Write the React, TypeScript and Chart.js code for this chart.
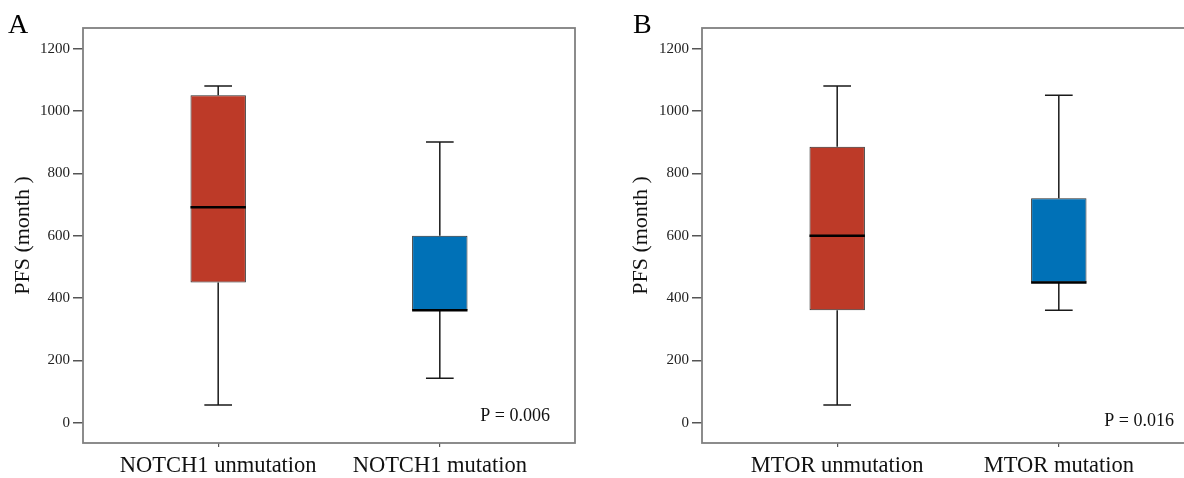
import React, { useEffect, useRef } from 'react';
import { Chart, registerables } from 'chart.js';

Chart.register(...registerables);

// ---------- data ----------
const categoriesA = ['NOTCH1 unmutation', 'NOTCH1 mutation'];
const minA = [57, 143];
const q1A = [450, 361];
const medianA = [691, 361];
const q3A = [1050, 600];
const maxA = [1080, 900];

const categoriesB = ['MTOR unmutation', 'MTOR mutation'];
const minB = [57, 361];
const q1B = [361, 450];
const medianB = [600, 450];
const q3B = [885, 720];
const maxB = [1080, 1050];

const boxColors = ['#BD3A28', '#0071B7'];
const yTickValues = [0, 200, 400, 600, 800, 1000, 1200];
const categoryPositions = [1, 2];
const yTitle = 'PFS (month )';

const SERIF = '"Liberation Serif", "Times New Roman", "DejaVu Serif", serif';

type PanelProps = {
  panelLabel: string;
  categories: string[];
  mins: number[];
  q1s: number[];
  medians: number[];
  q3s: number[];
  maxs: number[];
  pText: string;
  canvasLeft: number;
  canvasWidth: number;
  yAxisWidth: number;
  paddingRight: number;
  yTitlePad: number;
  labelX: number;
  pRightOffset: number;
  pBaseline: number;
};

function BoxPanel(props: PanelProps) {
  const ref = useRef<HTMLCanvasElement | null>(null);

  useEffect(() => {
    if (!ref.current) return;
    const p = props;
    const boxWidth = 0.25;
    const capWidth = 0.125;

    const decor = {
      id: 'boxDecor',
      afterDatasetsDraw(chart: any) {
        const { ctx, scales } = chart;
        const x = scales.x;
        const y = scales.y;
        ctx.save();
        categoryPositions.forEach((pos, i) => {
          const xc = x.getPixelForValue(pos);
          const cl = x.getPixelForValue(pos - capWidth / 2);
          const cr = x.getPixelForValue(pos + capWidth / 2);
          const bl = x.getPixelForValue(pos - boxWidth / 2);
          const br = x.getPixelForValue(pos + boxWidth / 2);
          const yMax = y.getPixelForValue(p.maxs[i]);
          const yMin = y.getPixelForValue(p.mins[i]);
          const yQ1 = y.getPixelForValue(p.q1s[i]);
          const yQ3 = y.getPixelForValue(p.q3s[i]);
          const yMed = y.getPixelForValue(p.medians[i]);
          ctx.strokeStyle = '#1a1a1a';
          ctx.lineWidth = 1.5;
          ctx.beginPath();
          ctx.moveTo(xc, yQ3);
          ctx.lineTo(xc, yMax);
          ctx.moveTo(cl, yMax);
          ctx.lineTo(cr, yMax);
          ctx.moveTo(xc, yQ1);
          ctx.lineTo(xc, yMin);
          ctx.moveTo(cl, yMin);
          ctx.lineTo(cr, yMin);
          ctx.stroke();
          ctx.strokeStyle = '#000';
          ctx.lineWidth = 2.5;
          ctx.beginPath();
          ctx.moveTo(bl, yMed);
          ctx.lineTo(br, yMed);
          ctx.stroke();
        });
        ctx.restore();
      },
      afterDraw(chart: any) {
        const { ctx, chartArea } = chart;
        ctx.save();
        ctx.strokeStyle = '#808080';
        ctx.lineWidth = 1.8;
        ctx.strokeRect(
          chartArea.left,
          chartArea.top,
          chartArea.right - chartArea.left,
          chartArea.bottom - chartArea.top
        );
        ctx.fillStyle = '#000';
        ctx.font = `28px ${SERIF}`;
        ctx.textAlign = 'left';
        ctx.textBaseline = 'alphabetic';
        ctx.fillText(p.panelLabel, p.labelX, 33);
        ctx.fillStyle = '#111';
        ctx.font = `18px ${SERIF}`;
        ctx.textAlign = 'right';
        ctx.fillText(p.pText, chartArea.right - p.pRightOffset, p.pBaseline);
        ctx.restore();
      },
    };

    const chart = new Chart(ref.current, {
      type: 'bar',
      data: {
        datasets: [
          {
            data: categoryPositions.map((pos, i) => ({ x: pos, y: [p.q1s[i], p.q3s[i]] })) as any,
            backgroundColor: boxColors,
            borderColor: '#2b2b2b',
            borderWidth: 1,
            borderSkipped: false,
            barPercentage: 1,
            categoryPercentage: boxWidth,
          },
        ],
      },
      options: {
        animation: false,
        responsive: false,
        maintainAspectRatio: false,
        layout: { padding: { top: 28, right: p.paddingRight, left: 0, bottom: 0 } },
        plugins: { legend: { display: false }, tooltip: { enabled: false } },
        scales: {
          x: {
            type: 'linear',
            min: 0.39,
            max: 2.61,
            offset: false,
            grid: { drawOnChartArea: false, drawTicks: true, tickLength: 4, color: '#555', lineWidth: 1.2, offset: false },
            border: { display: false },
            afterBuildTicks: (scale: any) => {
              scale.ticks = categoryPositions.map((v) => ({ value: v }));
            },
            afterFit: (scale: any) => {
              scale.height = 35;
            },
            ticks: {
              autoSkip: false,
              maxRotation: 0,
              padding: 6,
              color: '#111',
              font: { family: SERIF, size: 22.5 },
              callback: (value: any) => {
                const idx = categoryPositions.indexOf(Number(value));
                return idx >= 0 ? p.categories[idx] : '';
              },
            },
          },
          y: {
            type: 'linear',
            min: -65,
            max: 1266,
            grid: { drawOnChartArea: false, drawTicks: true, tickLength: 10, color: '#555', lineWidth: 1.5 },
            border: { display: false },
            afterBuildTicks: (scale: any) => {
              scale.ticks = yTickValues.map((v) => ({ value: v }));
            },
            afterFit: (scale: any) => {
              scale.width = p.yAxisWidth;
            },
            ticks: {
              padding: 3,
              color: '#222',
              font: { family: SERIF, size: 15 },
              callback: (value: any) => String(value),
            },
            title: {
              display: true,
              text: yTitle,
              color: '#111',
              font: { family: SERIF, size: 22 },
              padding: { top: p.yTitlePad, bottom: 0 },
            },
          },
        },
      },
      plugins: [decor],
    });
    return () => chart.destroy();
  }, []);

  return (
    <canvas
      ref={ref}
      width={props.canvasWidth}
      height={478}
      style={{
        position: 'absolute',
        left: props.canvasLeft,
        top: 0,
        width: props.canvasWidth,
        height: 478,
      }}
    />
  );
}

export default function App() {
  return (
    <div
      style={{
        position: 'fixed',
        left: 0,
        top: 0,
        width: 1184,
        height: 478,
        overflow: 'hidden',
        background: '#fff',
      }}
    >
      <BoxPanel
        panelLabel="A"
        categories={categoriesA}
        mins={minA}
        q1s={q1A}
        medians={medianA}
        q3s={q3A}
        maxs={maxA}
        pText="P = 0.006"
        canvasLeft={0}
        canvasWidth={590}
        yAxisWidth={83}
        paddingRight={15}
        yTitlePad={10}
        labelX={8}
        pRightOffset={25}
        pBaseline={421}
      />
      <BoxPanel
        panelLabel="B"
        categories={categoriesB}
        mins={minB}
        q1s={q1B}
        medians={medianB}
        q3s={q3B}
        maxs={maxB}
        pText="P = 0.016"
        canvasLeft={590}
        canvasWidth={610}
        yAxisWidth={112}
        paddingRight={6}
        yTitlePad={38}
        labelX={43}
        pRightOffset={20}
        pBaseline={426}
      />
    </div>
  );
}
